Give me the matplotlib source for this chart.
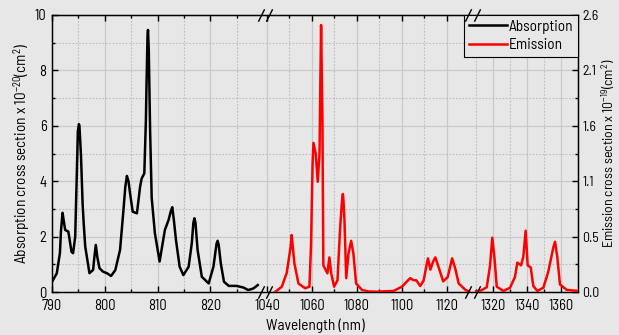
import numpy as np
import matplotlib
matplotlib.use("Agg")
import matplotlib.pyplot as plt
from matplotlib.path import Path
from matplotlib.transforms import blended_transform_factory, ScaledTranslation
from matplotlib.lines import Line2D

plt.rcParams["font.family"] = ["Barlow Semi Condensed", "DejaVu Sans"]
plt.rcParams["mathtext.default"] = "regular"

abs_wl = [790.0, 790.9, 791.5, 791.7, 792.0, 792.2, 792.5, 793.1, 793.7, 794.0,
          794.4, 794.8, 794.9, 795.1, 795.2, 795.5, 795.8, 796.0, 796.3, 797.1,
          797.8, 798.0, 798.3, 798.6, 799.0, 799.7, 800.4, 801.2, 802.0, 802.9,
          803.5, 803.9, 804.2, 804.5, 804.8, 805.3, 806.1, 806.7, 807.0, 807.5,
          807.8, 807.9, 808.1, 808.2, 808.35, 808.6, 808.9, 809.5, 810.4, 811.4,
          812.1, 812.5, 812.8, 813.1, 813.5, 814.2, 814.9, 815.9, 816.5, 816.8,
          817.0, 817.2, 817.6, 818.4, 819.7, 820.6, 821.2, 821.4, 821.6, 822.0,
          822.6, 823.5, 825.0, 826.3, 827.2, 828.2, 829.0]
abs_val = [0.37, 0.67, 1.40, 2.20, 2.86, 2.60, 2.24, 2.18, 1.45, 1.40,
           2.00, 5.00, 5.80, 6.06, 6.00, 4.90, 3.20, 2.50, 1.64, 0.68,
           0.80, 1.20, 1.70, 1.25, 0.86, 0.73, 0.68, 0.58, 0.79, 1.52,
           2.85, 3.80, 4.19, 4.00, 3.56, 2.90, 2.84, 3.80, 4.10, 4.28,
           6.20, 7.30, 9.20, 9.46, 8.70, 5.80, 3.40, 2.13, 1.10, 2.24,
           2.60, 2.90, 3.06, 2.60, 1.88, 0.91, 0.61, 0.91, 1.76, 2.50,
           2.66, 2.50, 1.52, 0.55, 0.31, 0.91, 1.75, 1.85, 1.70, 1.03,
           0.37, 0.22, 0.22, 0.16, 0.07, 0.13, 0.25]

# emission, 1040-1130 nm part
em_wl_a = [1043.6, 1046.6, 1048.8, 1050.5, 1051.0, 1051.5, 1052.2, 1054.0, 1057.0, 1058.9,
           1059.6, 1060.3, 1060.7, 1061.7, 1062.6, 1063.4, 1063.7, 1064.1, 1064.7, 1065.1,
           1066.9, 1067.8, 1068.6, 1069.9, 1071.4, 1072.6, 1073.4, 1073.8, 1074.1, 1074.5,
           1075.3, 1076.3, 1077.5, 1078.5, 1079.7, 1082.3, 1085.2, 1089.0, 1096.4, 1100.1,
           1102.4, 1103.8, 1105.3, 1106.5, 1108.3, 1109.8, 1110.8, 1111.7, 1112.8, 1114.0,
           1115.0, 1116.5, 1118.5, 1120.5, 1122.5, 1124.0, 1125.4, 1128.4, 1130.0]
em_val_a = [0.00, 0.05, 0.18, 0.42, 0.535, 0.42, 0.27, 0.08, 0.035, 0.05,
            0.43, 1.20, 1.40, 1.30, 1.035, 1.30, 1.86, 2.506, 1.61, 0.25,
            0.175, 0.325, 0.175, 0.05, 0.11, 0.61, 0.85, 0.92, 0.85, 0.68,
            0.13, 0.36, 0.48, 0.36, 0.08, 0.02, 0.005, 0.003, 0.01, 0.05,
            0.10, 0.13, 0.11, 0.11, 0.056, 0.11, 0.22, 0.316, 0.21, 0.285,
            0.325, 0.23, 0.10, 0.14, 0.316, 0.21, 0.08, 0.02, 0.005]

# emission, 1310-1370 nm part
em_wl_b = [1310.0, 1312.4, 1316.3, 1318.2, 1319.6, 1320.8, 1322.2, 1326.1, 1330.0, 1332.9,
           1334.3, 1336.5, 1337.8, 1339.2, 1340.4, 1342.2, 1343.7, 1346.1, 1349.6, 1352.5,
           1355.5, 1356.5, 1357.8, 1359.4, 1363.4, 1370.0]
em_val_b = [0.005, 0.01, 0.044, 0.24, 0.51, 0.33, 0.05, 0.01, 0.04, 0.14,
            0.275, 0.25, 0.33, 0.575, 0.25, 0.23, 0.056, 0.01, 0.04, 0.19,
            0.42, 0.472, 0.33, 0.07, 0.02, 0.01]

x_major = [790, 800, 810, 820, 1040, 1060, 1080, 1100, 1120, 1320, 1340, 1360]
x_minor = [795, 805, 815, 825, 1050, 1070, 1090, 1110, 1310, 1330, 1350]
right_labels = ["0.0", "0.5", "1.1", "1.6", "2.1", "2.6"]

# broken x axis: wavelength knots -> relative position
wl_knots = [790, 830, 1040, 1130, 1310, 1370]
pos_knots = [0, 211, 215, 417, 424, 526]


def fwd(x):
    return np.interp(x, wl_knots, pos_knots)


def inv(p):
    return np.interp(p, pos_knots, wl_knots)


bg = "#e7e7e7"
fig = plt.figure(figsize=(6.19, 3.35), dpi=100, facecolor=bg)
ax = fig.add_axes([52 / 619, 43 / 335, 526 / 619, 277 / 335])
ax.set_facecolor(bg)
ax.set_xscale("function", functions=(fwd, inv))
ax.set_xlim(790, 1370)
ax.set_ylim(0, 10)

ax.plot(abs_wl, abs_val, color="black", lw=1.8, zorder=3)

ax.set_xticks(x_major, labels=[str(t) for t in x_major])
ax.set_xticks(x_minor, minor=True)
ax.set_yticks(range(0, 11, 2))
ax.set_yticks(range(1, 10, 2), minor=True)
ax.tick_params(which="both", direction="in", top=True, labelsize=10.5, width=1)
ax.tick_params(axis="x", pad=5)
ax.tick_params(axis="y", pad=4)
ax.tick_params(which="major", length=4)
ax.tick_params(which="minor", length=2.5)
ax.grid(which="major", color="#c9c9c9", lw=0.9, ls="-")
ax.grid(which="minor", color="#bdbdbd", lw=0.8, ls=(0, (1.5, 1.5)))
ax.set_axisbelow(True)
for s in ax.spines.values():
    s.set_linewidth(1.0)

ax.set_xlabel("Wavelength (nm)", fontsize=11, va="center")
ax.xaxis.set_label_coords(0.5, -0.123)
ax.set_ylabel("Absorption cross section x 10$^{-20}$(cm$^{2}$)", fontsize=11, va="center")
ax.yaxis.set_label_coords(-0.057, 0.5)

ax2 = ax.twinx()
ax2.set_ylim(0, 2.6)
em_wl = em_wl_a + [np.nan] + em_wl_b
em_val = em_val_a + [np.nan] + em_val_b
ax2.plot(em_wl, em_val, color="red", lw=1.8, zorder=3)
ax2.set_yticks(np.linspace(0, 2.6, 6), labels=right_labels)
ax2.set_yticks(np.linspace(0.26, 2.34, 5), minor=True)
ax2.tick_params(which="both", direction="in", labelsize=10, pad=3, width=1)
ax2.tick_params(which="major", length=4)
ax2.tick_params(which="minor", length=2.5)
ax2.set_ylabel("Emission cross section x 10$^{-19}$(cm$^{2}$)", fontsize=10, va="center")
ax2.yaxis.set_label_coords(1.058, 0.5)
ax2.set_xlim(790, 1370)

# break marks
slash = Path([(-0.5, -1.0), (0.5, 1.0)], [Path.MOVETO, Path.LINETO])
bt = blended_transform_factory(ax2.transData, ax2.transAxes)
for wl in (935, 1220):
    for yy in (0, 1):
        ax2.plot([wl, wl], [yy, yy], color=bg, lw=3, transform=bt, clip_on=False, zorder=5,
                 solid_capstyle="butt")
        for dx in (-3.0, 3.0):
            tr = bt + ScaledTranslation(dx / 72, 0, fig.dpi_scale_trans)
            ax2.plot([wl], [yy], marker=slash, ms=9, mew=1.0, color="black",
                     transform=tr, clip_on=False, zorder=6)

handles = [Line2D([], [], color="black", lw=1.8), Line2D([], [], color="red", lw=1.8)]
leg = ax2.legend(handles, ["Absorption", "Emission"], loc="upper right", fontsize=11,
                 frameon=True, fancybox=False, borderaxespad=0, handlelength=2.5,
                 handletextpad=0.1, borderpad=0.3, labelspacing=0.3)
leg.get_frame().set_edgecolor("black")
leg.get_frame().set_facecolor(bg)
leg.get_frame().set_alpha(1)
leg.get_frame().set_linewidth(0.8)

fig.savefig("out.png", dpi=100, facecolor=bg)
